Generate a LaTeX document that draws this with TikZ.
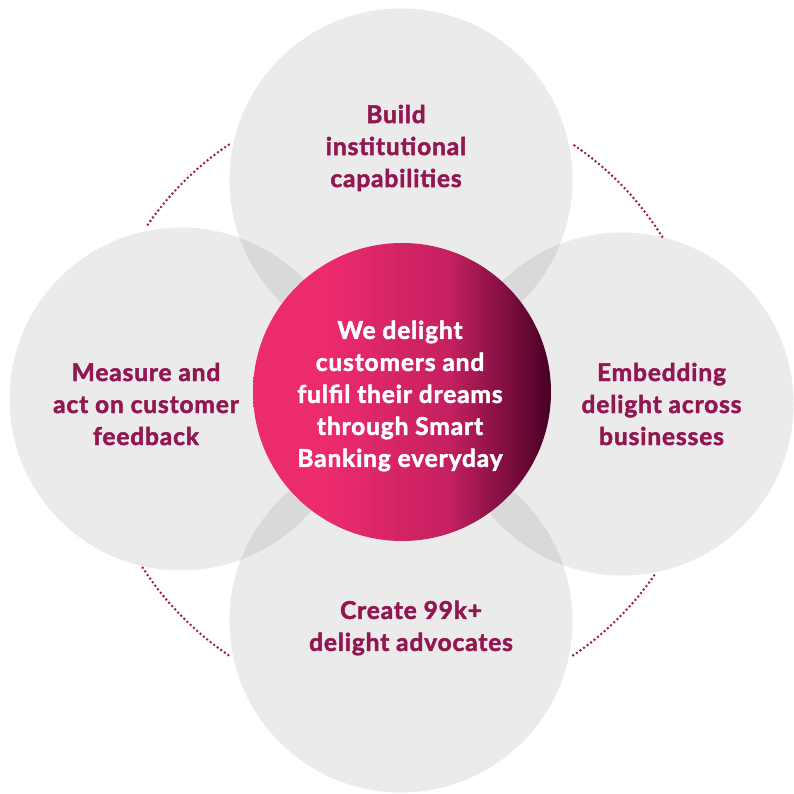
\documentclass[tikz,border=0pt]{standalone}
\usepackage{fontspec}
\setmainfont{Lato}[BoldFeatures={FakeBold=2, LetterSpace=3.5}]
\usetikzlibrary{positioning}
\definecolor{colPetal}{RGB}{0,0,0}
\definecolor{colText}{RGB}{146,22,80}
\definecolor{colDot}{RGB}{155,27,77}
\definecolor{colHubA}{RGB}{236,42,110}
\definecolor{colHubB}{RGB}{196,32,96}
\definecolor{colHubC}{RGB}{72,0,36}
\pgfdeclarehorizontalshading{hubShade}{100bp}{%
  color(0bp)=(colHubA); color(25bp)=(colHubA); color(38bp)=(colHubA);
  color(58bp)=(colHubB); color(75bp)=(colHubC); color(100bp)=(colHubC)}
\tikzset{
  petal/.style={
    circle, minimum size=343pt, inner sep=0pt,
    fill=colPetal, fill opacity=0.08
  },
  petalText/.style={
    align=center, text=colText,
    font=\fontsize{24.5}{32}\selectfont\bfseries
  },
  hub/.style={
    circle, minimum size=298pt, inner sep=0pt,
    shading=hubShade
  },
  hubText/.style={
    align=center, text=white,
    font=\fontsize{24.5}{32}\selectfont\bfseries
  },
  ring/.style={
    draw=colDot, line width=2.8pt, line cap=round,
    dash pattern=on 0pt off 4.4pt
  },
}

\begin{document}
\begin{tikzpicture}[x=1pt, y=1pt]
\useasboundingbox (0,0) rectangle (794,793);

% ---- Outer circles ---------------------------------------------
\node[petal] (build) at (401,613) {};
\node[petal] (measure) at (181,394) {};
\node[petal] (embed) at (622,389) {};
\node[petal] (create) at (401,172) {};

% ---- Dotted ring between circles -------------------------------
\coordinate (ringC) at (401,393);
\draw[ring] ([shift={(32:308)}]ringC) arc[start angle=32, end angle=56, radius=308];
\draw[ring] ([shift={(124:308)}]ringC) arc[start angle=124, end angle=146, radius=308];
\draw[ring] ([shift={(213:308)}]ringC) arc[start angle=213, end angle=236, radius=308];
\draw[ring] ([shift={(304:308)}]ringC) arc[start angle=304, end angle=326, radius=308];

% ---- Centre ----------------------------------------------------
\node[hub] (core) at (402,401) {};
\node[hubText] (coreTxt) at (400,397) {We delight\\customers and\\fulfil their dreams\\through Smart\\Banking everyday};

% ---- Labels ----------------------------------------------------
\node[petalText] (buildTxt) at (396,645) {Build\\institutional\\capabilities};
\node[petalText] (measureTxt) at (146,389) {Measure and\\act on customer\\feedback};
\node[petalText] (embedTxt) at (661.5,389) {Embedding\\delight across\\businesses};
\node[petalText] (createTxt) at (411,165) {Create 99k+\\delight advocates};

\end{tikzpicture}
\end{document}
